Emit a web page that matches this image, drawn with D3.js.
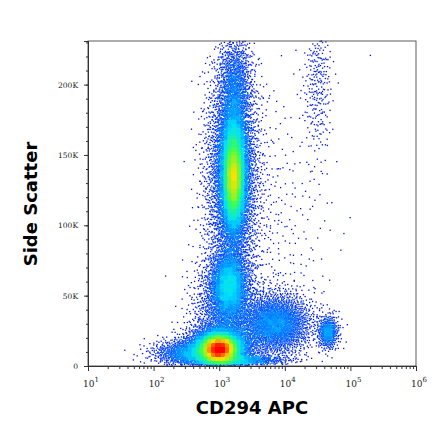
<!DOCTYPE html><html><head><meta charset="utf-8"><script src="https://cdn.jsdelivr.net/npm/d3@7"></script>
<style>body{margin:0;background:#fff}</style></head><body><svg id="c" width="440" height="441"></svg><script>
// Populations (log10 CD294 APC centre, SSC centre in K, spreads, event counts)
const popX  = [3.0, 3.22, 3.15, 3.85, 4.66, 4.5, 3.24, 3.8, 2.6, 3.3, 3.2, 3.1, 3.0, 3.22];
const popY  = [12, 138, 58, 30, 24, 205, 200, 95, 9, 4, 135, 40, 13, 132];
const popSX = [0.14, 0.1, 0.14, 0.28, 0.08, 0.11, 0.13, 0.45, 0.3, 0.35, 0.2, 0.25, 0.25, 0.06];
const popSY = [5, 22, 12, 11, 6, 30, 18, 55, 5, 2, 40, 20, 8, 14];
const popN  = [5500, 6000, 2200, 2600, 500, 320, 1000, 350, 1400, 800, 4500, 1800, 3500, 2000];
const xTicks = [1,2,3,4,5,6];
const yTicks = [0,50,100,150,200];
const yLabels = ["0","50K","100K","150K","200K"];

const svg=d3.select("#c");
const m={l:88,r:416,t:41,b:366};
const x=d3.scaleLinear().domain([1,6]).range([m.l,m.r]);
const y=d3.scaleLinear().domain([0,231]).range([m.b,m.t]);
function halton(i,b){let f=1,r=0;while(i>0){f/=b;r+=f*(i%b);i=Math.floor(i/b);}return r;}
const pts=[];let k=1;
popX.forEach((cx,p)=>{for(let i=0;i<popN[p];i++,k++){
 const u1=Math.max(1e-6,halton(k,2)),u2=halton(k,3);
 const r=Math.sqrt(-2*Math.log(u1));
 const px=cx+popSX[p]*r*Math.cos(2*Math.PI*u2), py=popY[p]+popSY[p]*r*Math.sin(2*Math.PI*u2);
 if(px>1&&px<6&&py>0.5&&py<231)pts.push([px,py]);}});
const B=4,grid=new Map();
pts.forEach(d=>{const key=Math.floor(x(d[0])/B)+","+Math.floor(y(d[1])/B);grid.set(key,(grid.get(key)||0)+1);});
const dens=d=>grid.get(Math.floor(x(d[0])/B)+","+Math.floor(y(d[1])/B));
const maxD=d3.max([...grid.values()]);
const col=d3.scaleLinear().domain([0,0.1,0.25,0.45,0.68,1]).range(["#0000d8","#0050ff","#00e0ff","#40ff50","#ffe000","#ff0000"]).clamp(true);
pts.sort((a,b)=>dens(a)-dens(b));
svg.append("g").selectAll("rect").data(pts).join("rect")
 .attr("x",d=>x(d[0])-0.6).attr("y",d=>y(d[1])-0.6).attr("width",1.3).attr("height",1.3)
 .attr("fill",d=>col(Math.pow(dens(d)/maxD,0.72)));
svg.append("rect").attr("x",m.l).attr("y",m.t).attr("width",m.r-m.l).attr("height",m.b-m.t).attr("fill","none").attr("stroke","#333").attr("stroke-width",0.8);
const minor=[];for(let d=1;d<6;d++)for(let j=2;j<10;j++)minor.push(d+Math.log10(j));
const xa=svg.append("g").attr("transform",`translate(0,${m.b})`);
xa.call(d3.axisBottom(x).tickValues(xTicks).tickSize(5).tickFormat(""));
xa.append("g").call(d3.axisBottom(x).tickValues(minor).tickSize(3).tickFormat(""));
xa.selectAll("path.domain").attr("stroke","#333");xa.selectAll("line").attr("stroke","#333");
xTicks.forEach(t=>{const g=svg.append("text").attr("x",x(t)+3).attr("y",387).attr("text-anchor","middle").attr("font-family","DejaVu Serif").attr("font-size",9).attr("fill","#222");
 g.append("tspan").text("10");g.append("tspan").attr("dy",-5).attr("font-size",7).text(t);});
const ya=svg.append("g").attr("transform",`translate(${m.l},0)`);
ya.call(d3.axisLeft(y).tickValues(yTicks).tickSize(4).tickFormat((d,i)=>yLabels[i]));
ya.append("g").call(d3.axisLeft(y).tickValues(d3.range(0,231,10)).tickSize(2).tickFormat(""));
ya.selectAll("path.domain").attr("stroke","#333");ya.selectAll("line").attr("stroke","#333");
ya.selectAll("text").attr("font-family","DejaVu Serif").attr("font-size",7.5).attr("fill","#222").attr("dx",-3);
svg.append("text").attr("x",252).attr("y",414).attr("text-anchor","middle").attr("font-family","DejaVu Sans").attr("font-weight","bold").attr("font-size",18).text("CD294 APC");
svg.append("text").attr("transform","translate(37,204) rotate(-90)").attr("text-anchor","middle").attr("font-family","DejaVu Sans").attr("font-weight","bold").attr("font-size",18).text("Side Scatter");
</script></body></html>
